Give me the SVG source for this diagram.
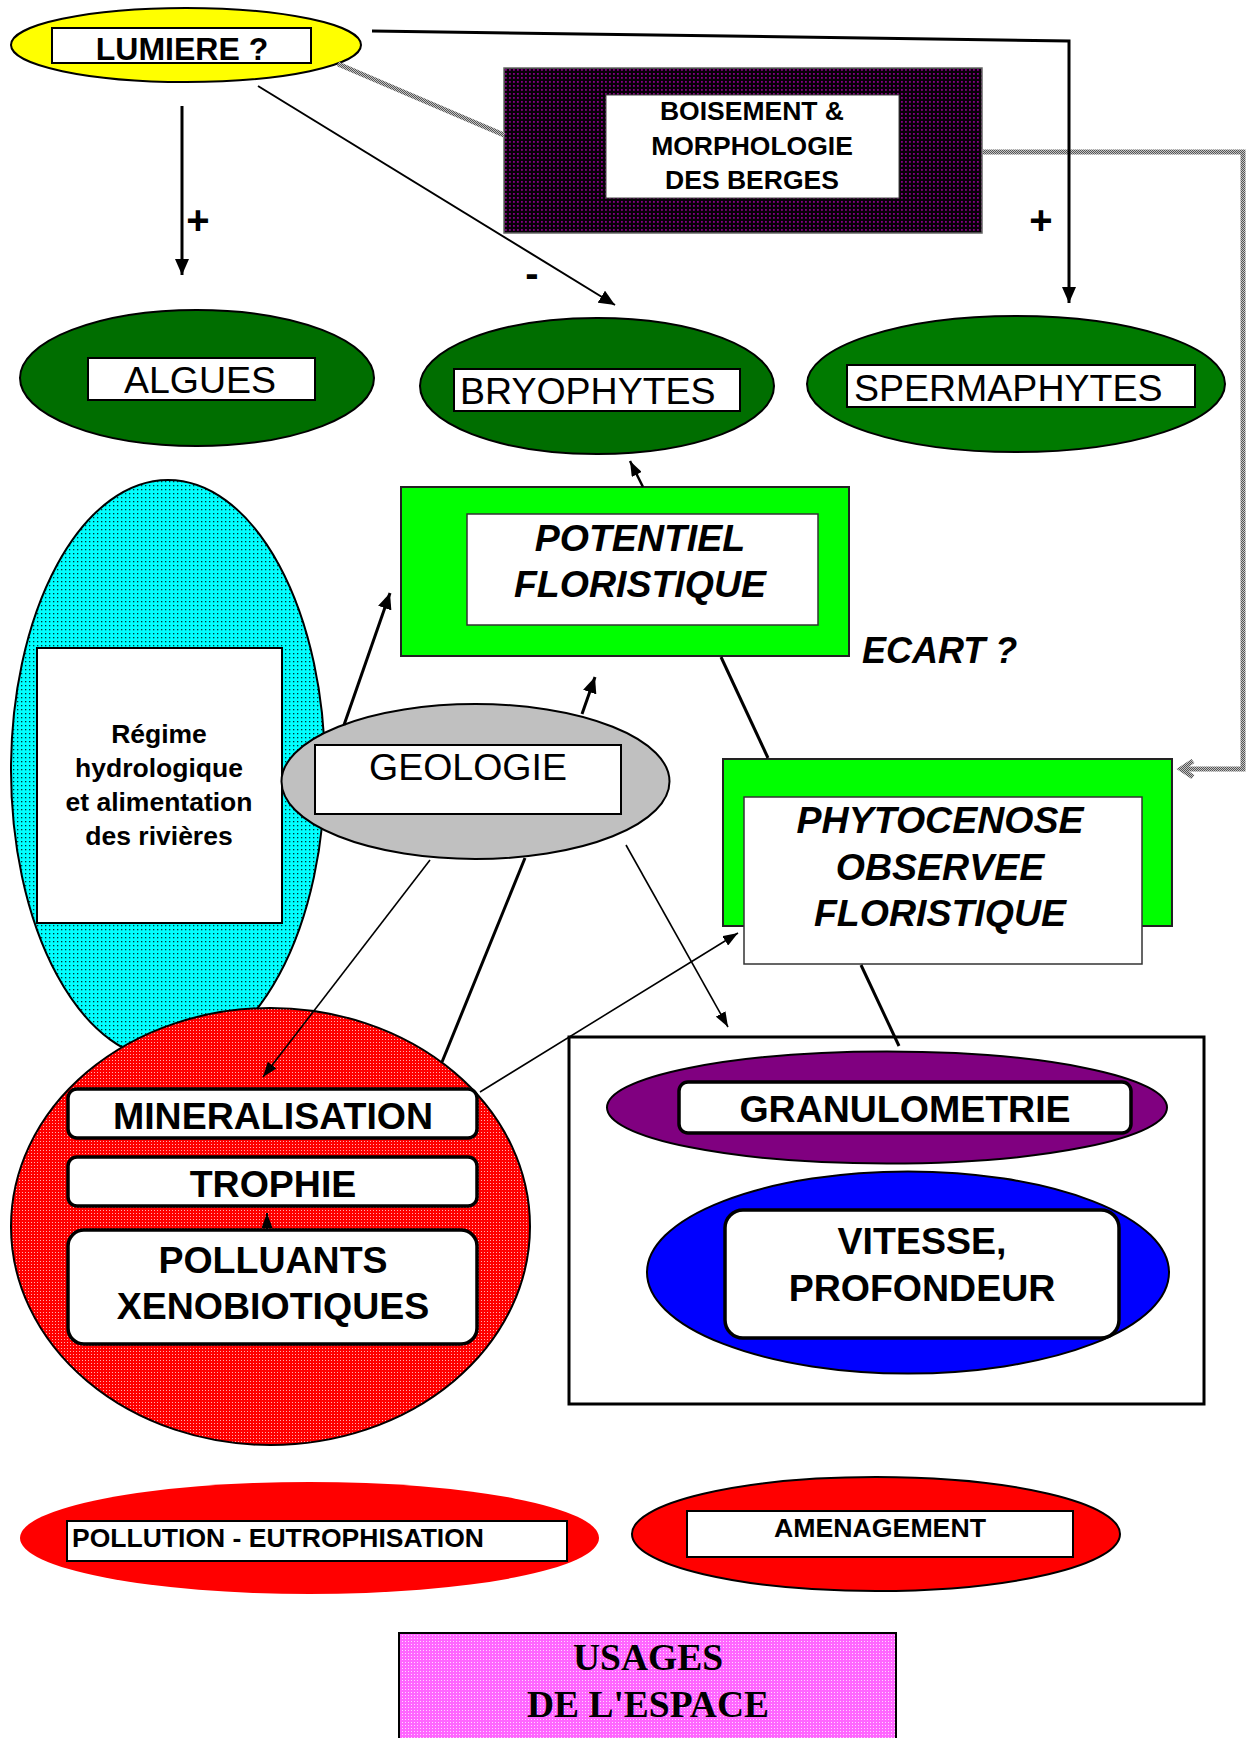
<svg xmlns="http://www.w3.org/2000/svg" width="1249" height="1738" viewBox="0 0 1249 1738">
<style>
.t{font-family:"Liberation Sans",Arial,sans-serif;fill:#000}
.b{font-weight:bold}
.bi{font-weight:bold;font-style:italic}
.c{text-anchor:middle}
.box{fill:#fff;stroke:#000;stroke-width:2}
.rbox{fill:#fff;stroke:#000;stroke-width:3.5}
.ln{fill:none;stroke:#000}
.gray{fill:none;stroke:url(#pChk);stroke-width:5}
</style>
<defs>
<pattern id="pCyan" width="4" height="4" patternUnits="userSpaceOnUse"><rect width="4" height="4" fill="#00ffff"/><rect x="1" y="1" width="1.3" height="1.3" fill="#003333"/></pattern>
<pattern id="pRed" width="3" height="3" patternUnits="userSpaceOnUse"><rect width="3" height="3" fill="#ff0000"/><rect x="1" y="1" width="1" height="1" fill="#ffb0b0"/></pattern>
<pattern id="pPurp" width="4" height="4" patternUnits="userSpaceOnUse"><rect width="4" height="4" fill="#060006"/><rect x="1" y="1" width="1.8" height="1.8" fill="#840084"/></pattern>
<pattern id="pPink" width="3" height="3" patternUnits="userSpaceOnUse"><rect width="3" height="3" fill="#ff66ff"/><rect width="1" height="1" fill="#ffd8ff"/></pattern>
<pattern id="pChk" width="2" height="2" patternUnits="userSpaceOnUse"><rect width="2" height="2" fill="#c4c4c4"/><rect width="1" height="1" fill="#555"/><rect x="1" y="1" width="1" height="1" fill="#555"/></pattern>
<marker id="ah" viewBox="0 0 16 14" refX="16" refY="7" markerWidth="16" markerHeight="14" orient="auto" markerUnits="userSpaceOnUse"><path d="M0,0 L16,7 L0,14 z" fill="#000"/></marker>
<marker id="ahs" viewBox="0 0 15 11" refX="15" refY="5.5" markerWidth="15" markerHeight="11" orient="auto" markerUnits="userSpaceOnUse"><path d="M0,0 L15,5.5 L0,11 z" fill="#000"/></marker>
</defs>
<rect width="1249" height="1738" fill="#fff"/>

<g id="nodes">
<g id="regime">
<ellipse cx="168" cy="770" rx="157" ry="290" fill="url(#pCyan)" stroke="#000" stroke-width="2"/>
<rect x="37" y="648" width="245" height="275" class="box"/>
<text class="t b c" font-size="26.5"><tspan x="159" y="743">Régime</tspan><tspan x="159" y="777">hydrologique</tspan><tspan x="159" y="811">et alimentation</tspan><tspan x="159" y="845">des rivières</tspan></text>
</g>
<g id="lumiere">
<ellipse cx="186" cy="45" rx="175" ry="37" fill="#ffff00" stroke="#000" stroke-width="2"/>
<rect x="52" y="28" width="259" height="35" class="box" stroke-width="2.5"/>
<text class="t b c" font-size="32" x="182" y="60">LUMIERE ?</text>
</g>
<g id="boisement">
<rect x="504" y="68" width="478" height="165" fill="url(#pPurp)" stroke="#666" stroke-width="1.5"/>
<rect x="606" y="95" width="293" height="103" fill="#fff" stroke="#444" stroke-width="1"/>
<text class="t b c" font-size="26.5"><tspan x="752" y="120">BOISEMENT &amp;</tspan><tspan x="752" y="155">MORPHOLOGIE</tspan><tspan x="752" y="189">DES BERGES</tspan></text>
</g>
<g id="algues">
<ellipse cx="197" cy="378" rx="177" ry="68" fill="#006e00" stroke="#000" stroke-width="2"/>
<rect x="88" y="358" width="227" height="42" class="box"/>
<text class="t c" font-size="37.5" x="200" y="393">ALGUES</text>
</g>
<g id="bryophytes">
<ellipse cx="597" cy="386" rx="177" ry="68" fill="#006e00" stroke="#000" stroke-width="2"/>
<rect x="454" y="369" width="286" height="42" class="box"/>
<text class="t" font-size="37.5" x="460" y="404">BRYOPHYTES</text>
</g>
<g id="spermaphytes">
<ellipse cx="1016" cy="384" rx="209" ry="68" fill="#007a00" stroke="#000" stroke-width="2"/>
<rect x="847" y="365" width="348" height="42" class="box"/>
<text class="t" font-size="37.5" x="854" y="401">SPERMAPHYTES</text>
</g>
<g id="potentiel">
<rect x="401" y="487" width="448" height="169" fill="#00ff00" stroke="#222" stroke-width="2"/>
<rect x="467" y="514" width="351" height="111" fill="#fff" stroke="#333" stroke-width="1.5"/>
<text class="t bi c" font-size="37.5"><tspan x="640" y="551">POTENTIEL</tspan><tspan x="640" y="597">FLORISTIQUE</tspan></text>
</g>
<text id="ecart" class="t bi" font-size="36" x="862" y="663">ECART ?</text>
<g id="phytocenose">
<rect x="723" y="759" width="449" height="167" fill="#00ff00" stroke="#222" stroke-width="2"/>
<rect x="744" y="797" width="398" height="167" fill="#fff" stroke="#333" stroke-width="1.5"/>
<text class="t bi c" font-size="37.5"><tspan x="940" y="833">PHYTOCENOSE</tspan><tspan x="940" y="880">OBSERVEE</tspan><tspan x="940" y="926">FLORISTIQUE</tspan></text>
</g>
<g id="geologie">
<ellipse cx="475.5" cy="781.5" rx="194" ry="77.5" fill="#c0c0c0" stroke="#000" stroke-width="2"/>
<rect x="315" y="745" width="306" height="69" class="box"/>
<text class="t c" font-size="37.5" x="468" y="780">GEOLOGIE</text>
</g>
<g id="chimie">
<ellipse cx="270.5" cy="1226.5" rx="259.5" ry="218.5" fill="url(#pRed)" stroke="#000" stroke-width="2"/>
<rect x="68" y="1089" width="409" height="49" rx="9" class="rbox"/>
<text class="t b c" font-size="37.5" x="273" y="1129">MINERALISATION</text>
<rect x="68" y="1157" width="409" height="49" rx="9" class="rbox"/>
<text class="t b c" font-size="37.5" x="273" y="1197">TROPHIE</text>
<rect x="68" y="1230" width="409" height="114" rx="16" class="rbox"/>
<text class="t b c" font-size="37.5"><tspan x="273" y="1273">POLLUANTS</tspan><tspan x="273" y="1319">XENOBIOTIQUES</tspan></text>
</g>
<g id="hydraulique">
<rect x="569" y="1037" width="635" height="367" fill="#fff" stroke="#000" stroke-width="3"/>
<ellipse cx="887" cy="1107.5" rx="280" ry="56" fill="#800080" stroke="#000" stroke-width="2"/>
<rect x="679" y="1082" width="452" height="51" rx="9" class="rbox"/>
<text class="t b c" font-size="37.5" x="905" y="1122">GRANULOMETRIE</text>
<ellipse cx="908" cy="1272.5" rx="261" ry="101" fill="#0000ff" stroke="#000" stroke-width="2"/>
<rect x="725" y="1210" width="394" height="128" rx="18" class="rbox"/>
<text class="t b c" font-size="37.5"><tspan x="922" y="1254">VITESSE,</tspan><tspan x="922" y="1301">PROFONDEUR</tspan></text>
</g>
<g id="pollution">
<ellipse cx="309.5" cy="1538" rx="289.5" ry="56" fill="#ff0000"/>
<rect x="67" y="1521" width="500" height="40" class="box"/>
<text class="t b" font-size="26" x="72" y="1547" textLength="412" lengthAdjust="spacingAndGlyphs">POLLUTION - EUTROPHISATION</text>
</g>
<g id="amenagement">
<ellipse cx="876" cy="1534" rx="244" ry="57" fill="#ff0000" stroke="#000" stroke-width="2"/>
<rect x="687" y="1511" width="386" height="46" class="box"/>
<text class="t b c" font-size="26.7" x="880" y="1537">AMENAGEMENT</text>
</g>
<g id="usages">
<rect x="399" y="1633" width="497" height="120" fill="url(#pPink)" stroke="#000" stroke-width="2"/>
<text font-family="Liberation Serif,'Times New Roman',serif" font-weight="bold" font-size="37.5" text-anchor="middle"><tspan x="648" y="1670">USAGES</tspan><tspan x="648" y="1717">DE L'ESPACE</tspan></text>
</g>
</g>

<g id="connectors">
<path class="gray" d="M338,64 L504,135"/>
<path class="gray" d="M983,152 H1243 V769 H1183"/>
<path class="gray" stroke-width="4" d="M1193,761 L1181,769 L1193,777"/>
<path class="ln" stroke-width="3" d="M372,31 L1069,41 L1069,303" marker-end="url(#ah)"/>
<path class="ln" stroke-width="3" d="M182,106 V275" marker-end="url(#ah)"/>
<path class="ln" stroke-width="2" d="M258,86 L615,305" marker-end="url(#ah)"/>
<path class="ln" stroke-width="2.5" d="M643,487 L630,461" marker-end="url(#ahs)"/>
<path class="ln" stroke-width="3" d="M344,725 L390,593" marker-end="url(#ah)"/>
<path class="ln" stroke-width="3" d="M582,714 L595,677" marker-end="url(#ah)"/>
<path class="ln" stroke-width="3" d="M721,657 L768,758"/>
<path class="ln" stroke-width="1.6" d="M430,860 L263,1077" marker-end="url(#ahs)"/>
<path class="ln" stroke-width="3" d="M525,858 L442,1062"/>
<path class="ln" stroke-width="1.6" d="M626,845 L728,1027" marker-end="url(#ahs)"/>
<path class="ln" stroke-width="1.6" d="M480,1092 L738,933" marker-end="url(#ahs)"/>
<path class="ln" stroke-width="3" d="M861,965 L899,1046"/>
<path class="ln" stroke-width="2" d="M267,1229 L267,1213" marker-end="url(#ahs)"/>
<text class="t b c" font-size="40" x="198" y="234">+</text>
<text class="t b c" font-size="40" x="1041" y="234">+</text>
<text class="t b c" font-size="40" x="532" y="287">-</text>
</g>
</svg>
